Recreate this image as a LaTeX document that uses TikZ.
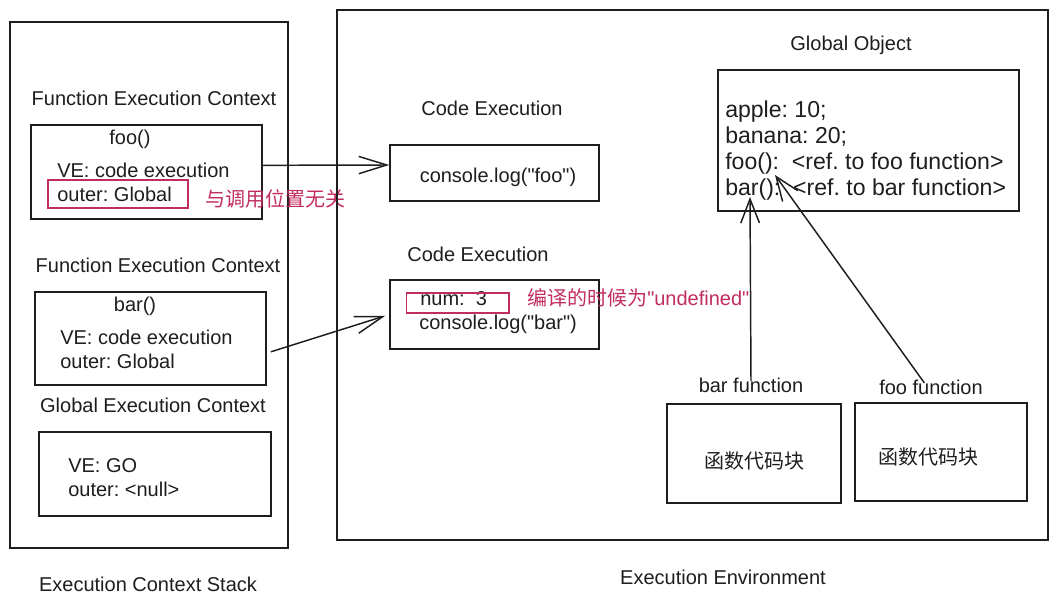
\documentclass[tikz,border=0pt]{standalone}
\usepackage{fontspec}
\setmainfont{Liberation Sans}[Ligatures=TeXOff]
\newfontfamily\cjk{Noto Sans CJK SC}
\usetikzlibrary{arrows.meta}
\definecolor{ink}{RGB}{30,30,30}
\definecolor{note}{RGB}{194,45,95}
\newcommand{\dq}{\char34\relax}
\frenchspacing
\tikzset{
  box/.style={draw=ink, line width=1.2pt, inner sep=0pt},
  redbox/.style={draw=note, line width=1pt, inner sep=0pt},
  txt/.style={inner sep=0pt, anchor=base west, text=ink, font=\fontsize{15pt}{16pt}\selectfont},
  ctxt/.style={txt, anchor=base},
  big/.style={txt, font=\fontsize{17.3pt}{18pt}\selectfont},
  rtxt/.style={txt, text=note},
  arr/.style={draw=ink, line width=1.1pt, -{Straight Barb[length=21pt,width=13pt,line width=1.1pt]}},
  arrs/.style={draw=ink, line width=1.1pt, -{Straight Barb[length=18pt,width=14pt,line width=1.1pt]}},
}
\begin{document}
\begin{tikzpicture}[x=0.75pt,y=-0.75pt]
\useasboundingbox[fill=white] (0,0) rectangle (1057,605);
% left stack
\node[box, minimum width=208.5pt, minimum height=394.5pt] (stack) at (149,285) {};
\node[ctxt] (stacklbl) at (148,592) {Execution Context Stack};
\node[ctxt] (fec1) at (154,106) {Function Execution Context};
\node[box, minimum width=173.25pt, minimum height=70.5pt] (foobox) at (146.5,172) {};
\node[ctxt] (foot) at (130,145) {foo()};
\node[txt] (foove) at (57,178) {VE: code execution};
\node[txt] (fooout) at (57,202) {outer: Global};
\node[redbox, minimum width=105pt, minimum height=21pt] (fooredbox) at (118,194) {};
\node[rtxt] (foonote) at (205,207) {\cjk 与调用位置无关};
\node[ctxt] (fec2) at (158,273) {Function Execution Context};
\node[box, minimum width=173.25pt, minimum height=69.75pt] (barbox) at (150.5,338.5) {};
\node[ctxt] (bart) at (135,312) {bar()};
\node[txt] (barve) at (60,345) {VE: code execution};
\node[txt] (barout) at (60,369) {outer: Global};
\node[ctxt] (gec) at (153,413) {Global Execution Context};
\node[box, minimum width=174pt, minimum height=63pt] (gbox) at (155,474) {};
\node[txt] (gve) at (68,473) {VE: GO};
\node[txt] (gout) at (68,497) {outer: <null>};
% right environment
\node[box, minimum width=533.25pt, minimum height=397.5pt] (env) at (692.5,275) {};
\node[ctxt] (envlbl) at (723,585) {Execution Environment};
\node[ctxt] (ce1) at (492,116) {Code Execution};
\node[box, minimum width=156.75pt, minimum height=42pt] (fooexec) at (494.5,173) {};
\node[ctxt] (fooexect) at (498,183) {console.log(\dq foo\dq)};
\node[ctxt] (ce2) at (478,262) {Code Execution};
\node[box, minimum width=156.75pt, minimum height=51.75pt] (barexec) at (494.5,314.5) {};
\node[txt] (numt) at (420,306) {num:\ \ 3};
\node[txt] (barexect) at (419,330) {console.log(\dq bar\dq)};
\node[redbox, minimum width=77pt, minimum height=15pt] (numredbox) at (457.5,303) {};
\node[rtxt] (numnote) at (527,306) {{\cjk 编译的时候为}\dq undefined\dq};
% global object
\node[ctxt] (gotitle) at (851,51) {Global Object};
\node[box, minimum width=225.75pt, minimum height=105.75pt] (gobox) at (868.5,140.5) {};
\node[big] (apple) at (725,118) {apple: 10;};
\node[big] (banana) at (725,144) {banana: 20;};
\node[big] (foor) at (725,170) {foo():\ \ <ref. to foo function>};
\node[big] (barr) at (725,196) {bar():\ \ <ref. to bar function>};
\coordinate (bartip) at (750,197);
\coordinate (footip) at (775,175);
% function blocks
\node[ctxt] (barfl) at (751,393) {bar function};
\node[box, minimum width=130.5pt, minimum height=74.25pt] (barfn) at (754,453.5) {};
\node[ctxt] (barfnt) at (754,469) {\cjk 函数代码块};
\node[ctxt] (foofl) at (931,395) {foo function};
\node[box, minimum width=129pt, minimum height=73.5pt] (foofn) at (941,452) {};
\node[ctxt] (foofnt) at (928,465) {\cjk 函数代码块};
% connectors
\draw[arr] ([yshift=5pt]foobox.east) -- ([yshift=6pt]fooexec.west);
\draw[arr] ([xshift=3pt,yshift=-10pt]barbox.east) -- ([xshift=-3pt,yshift=-1pt]barexec.west);
\draw[arrs] ([yshift=-2pt]barfl.north) -- (bartip);
\draw[arrs] ([xshift=-5pt,yshift=-2pt]foofl.north) -- (footip);
\end{tikzpicture}
\end{document}
